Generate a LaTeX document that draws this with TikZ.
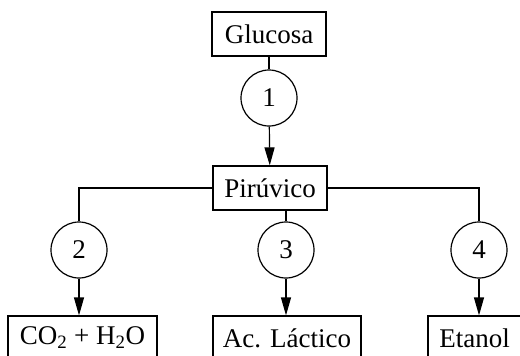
\documentclass[tikz,border=0pt]{standalone}
\usepackage{fontspec}
\setmainfont{Liberation Serif}
\usetikzlibrary{arrows.meta}
\begin{document}
\begin{tikzpicture}[x=1pt,y=-1pt,
  every node/.style={font=\fontsize{27}{31}\selectfont},
  box/.style={draw,line width=1.2pt,rectangle,inner sep=0pt,minimum height=44pt},
  step circ/.style={draw,line width=1.2pt,circle,inner sep=0pt,minimum size=56pt},
  link/.style={line width=1.2pt},
  flow/.style={line width=1.2pt,-{Triangle[length=18pt,width=10pt]}}]
\useasboundingbox (0,0) rectangle (520,356);
\clip (0,0) rectangle (520,356);
\node[box,minimum width=114pt] (glu) at (269,34) {Glucosa};
\node[step circ] (c1) at (269,98) {1};
\node[box,minimum width=114pt] (pir) at (270,188) {Pirúvico};
\node[step circ] (c2) at (79,250) {2};
\node[step circ] (c3) at (286,250) {3};
\node[step circ] (c4) at (479,250) {4};
\node[box,minimum width=149pt] (co2) at (82.5,338) {CO\textsubscript{2} + H\textsubscript{2}O};
\node[box,minimum width=148pt] (lac) at (287,338) {Ac. Láctico};
\node[box,minimum width=93pt] (eta) at (474.5,338) {Etanol};
\draw[link] (glu) -- (c1);
\draw[flow] (c1) -- (pir);
\draw[link] (pir.west) -| (c2.north);
\draw[link] (pir.east) -| (c4.north);
\draw[link] (pir.south -| c3) -- (c3.north);
\draw[flow] (c2) -- (c2 |- co2.north);
\draw[flow] (c3) -- (c3 |- lac.north);
\draw[flow] (c4) -- (c4 |- eta.north);
\end{tikzpicture}
\end{document}
